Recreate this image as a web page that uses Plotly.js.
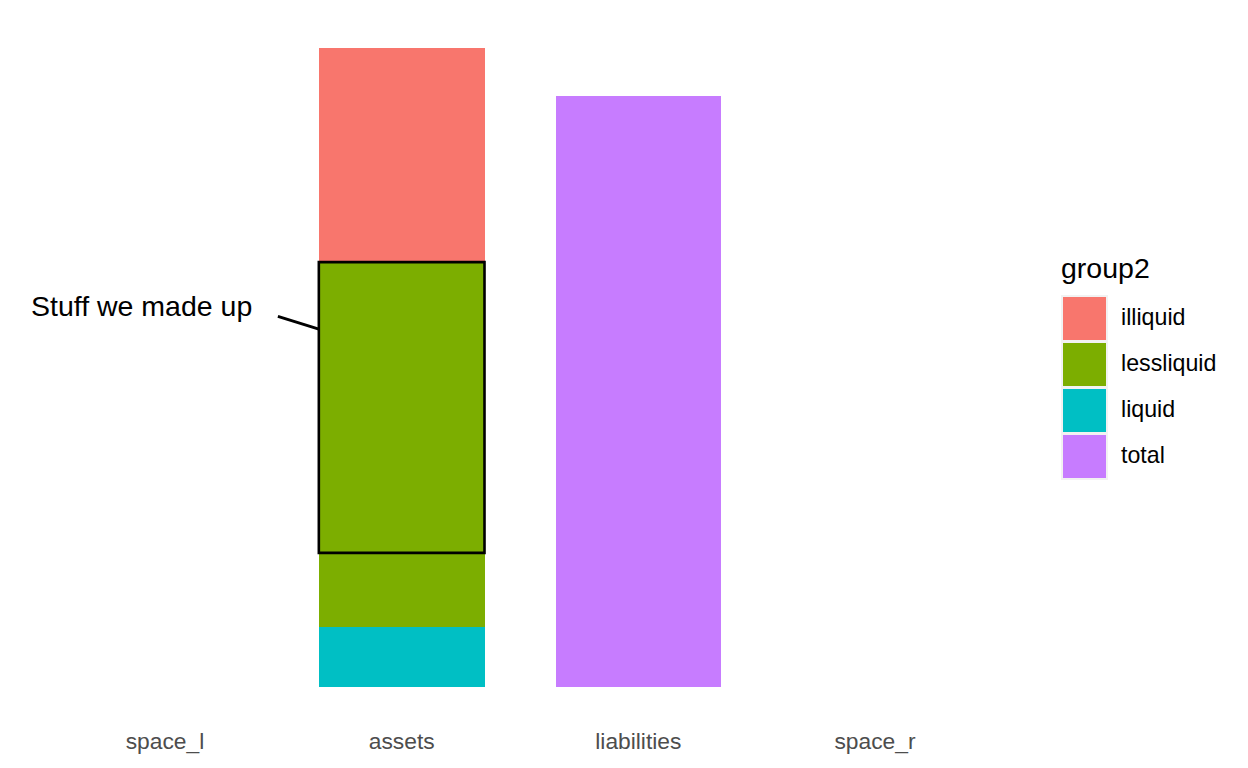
<!DOCTYPE html>
<html><head><meta charset="utf-8">
<script src="https://cdn.plot.ly/plotly-3.0.1.min.js"></script>
<style>body{margin:0;background:#fff}#c{width:1248px;height:768px}</style>
</head><body><div id="c"></div>
<script>
// Data
const categories = ['space_l', 'assets', 'liabilities', 'space_r'];
const groups = ['liquid', 'lessliquid', 'illiquid', 'total'];
const groupX = ['assets', 'assets', 'assets', 'liabilities'];
const groupValues = [9.8, 59.9, 35.2, 97];
const groupColors = ['#00BFC4', '#7CAE00', '#F8766D', '#C77CFF'];
const legendOrder = ['illiquid', 'lessliquid', 'liquid', 'total'];
const boxRange = [22, 69.7];       // annotation rectangle (y)
const labelText = 'Stuff we made up';
const labelPos = [-0.1, 62.5];
const segment = [[0.477, 60.8], [0.65, 58.7]];

const W = 1248, H = 768;
const L = 23, R = 231, T = 15, B = 49;
const pw = W - L - R, ph = H - T - B;
const px = x => (x - L) / pw;
const py = y => (H - B - y) / ph;

const traces = groups.map((g, i) => ({
  type: 'bar', name: g, x: [groupX[i]], y: [groupValues[i]],
  width: 0.7, marker: {color: groupColors[i], line: {width: 0}},
  showlegend: false, hoverinfo: 'x+y+name'
}));

const shapes = [
  {type: 'rect', xref: 'x', yref: 'y', x0: 1 - 0.35, x1: 1 + 0.35,
   y0: boxRange[0], y1: boxRange[1], line: {color: '#000', width: 2.6}, fillcolor: 'rgba(0,0,0,0)'},
  {type: 'line', xref: 'x', yref: 'y', x0: segment[0][0], y0: segment[0][1],
   x1: segment[1][0], y1: segment[1][1], line: {color: '#000', width: 2.8}}
];
const annotations = [
  {xref: 'x', yref: 'y', x: labelPos[0], y: labelPos[1], text: labelText, showarrow: false,
   font: {size: 28.5, color: '#000'}, xanchor: 'center', yanchor: 'middle'},
  {xref: 'paper', yref: 'paper', x: px(1059), y: py(268), text: 'group2', showarrow: false,
   font: {size: 28.5, color: '#000'}, xanchor: 'left', yanchor: 'middle'}
];
legendOrder.forEach((g, i) => {
  const c = groupColors[groups.indexOf(g)];
  const top = 296 + i * 46;
  shapes.push({type: 'rect', xref: 'paper', yref: 'paper', x0: px(1062), x1: px(1107),
    y0: py(top + 45), y1: py(top), fillcolor: c, line: {color: '#F2F2F2', width: 2}});
  annotations.push({xref: 'paper', yref: 'paper', x: px(1119), y: py(top + 21), text: g,
    showarrow: false, font: {size: 23.2, color: '#000'}, xanchor: 'left', yanchor: 'middle'});
});

const layout = {
  width: W, height: H, margin: {l: L, r: R, t: T, b: B, pad: 0},
  paper_bgcolor: '#fff', plot_bgcolor: '#fff',
  font: {family: 'Liberation Sans, Arial, sans-serif'},
  barmode: 'stack', showlegend: false,
  xaxis: {type: 'category', categoryorder: 'array', categoryarray: categories,
    range: [-0.6, 3.6], showgrid: false, zeroline: false, showline: false, ticks: '',
    tickfont: {size: 22.8, color: '#4D4D4D'}, ticklabelstandoff: 6},
  yaxis: {range: [-5.25, 110.25], showgrid: false, zeroline: false, showline: false,
    showticklabels: false, ticks: ''},
  shapes, annotations
};
traces.push({type: 'bar', x: categories, y: categories.map(() => 0), showlegend: false,
  hoverinfo: 'skip', marker: {color: 'rgba(0,0,0,0)'}});
Plotly.newPlot('c', traces, layout, {displayModeBar: false});
</script></body></html>
